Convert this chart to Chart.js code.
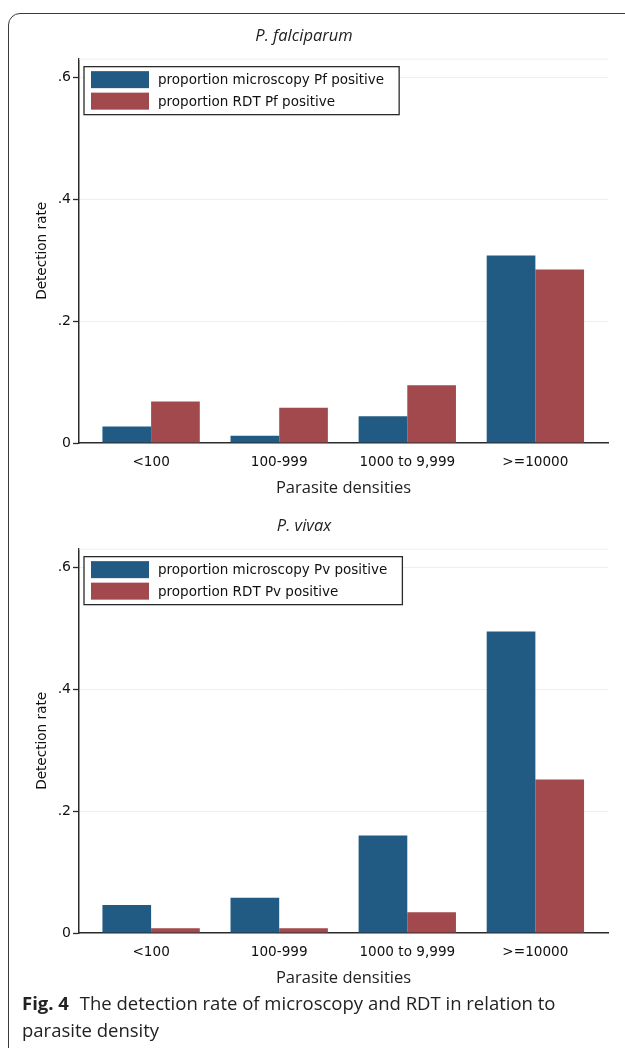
<!DOCTYPE html>
<html>
<head>
<meta charset="utf-8">
<script src="https://cdn.jsdelivr.net/npm/chart.js@4/dist/chart.umd.min.js"></script>
<style>
    html, body { margin: 0; padding: 0; background: #fff; }
    body { width: 625px; height: 1048px; position: relative; overflow: hidden; }
    .frame {
        position: absolute; left: 8px; top: 13px; right: -20px; bottom: -20px;
        border: 1.3px solid #3a3a3a; border-top-left-radius: 12px;
    }
    canvas { position: absolute; left: 0; }
    #pfChart { top: 20px; }
    #pvChart { top: 510px; }
    .caption {
        position: absolute; left: 22px; top: 989px; width: 570px;
        font-family: "Open Sans", sans-serif; font-size: 18.5px; line-height: 27px; color: #222;
    }
    .caption b { font-weight: 700; margin-right: 6px; }
</style>
</head>
<body>
<div class="frame"></div>
<canvas id="pfChart" width="625" height="485"></canvas>
<canvas id="pvChart" width="625" height="485"></canvas>
<div class="caption"><b>Fig. 4</b> The detection rate of microscopy and RDT in relation to parasite density</div>

<script>
const categories = ['<100', '100-999', '1000 to 9,999', '>=10000'];

const pfMicroscopy = [0.027, 0.012, 0.044, 0.308];
const pfRdt = [0.068, 0.058, 0.095, 0.285];

const pvMicroscopy = [0.046, 0.058, 0.160, 0.495];
const pvRdt = [0.008, 0.008, 0.034, 0.252];

const yTickValues = [0, 0.2, 0.4, 0.6];
const yTickLabels = ['0', '.2', '.4', '.6'];

const BLUE = '#215a82';
const RED = '#a2494d';
const GRID = '#e8f0f2';
const AXIS = '#2b2b2b';

// Stata-style legend: bordered box in the top-left corner of the plot
const boxLegend = {
    id: 'boxLegend',
    beforeDatasetsDraw(chart) {
        const ca = chart.chartArea;
        const ctx = chart.ctx;
        ctx.save();
        ctx.strokeStyle = GRID;
        ctx.lineWidth = 1;
        ctx.beginPath();
        ctx.moveTo(ca.left, ca.top + 0.5);
        ctx.lineTo(ca.right, ca.top + 0.5);
        ctx.stroke();
        ctx.restore();
    },
    afterDraw(chart) {
        const ca = chart.chartArea;
        const ctx = chart.ctx;
        const sets = chart.data.datasets;
        ctx.save();
        ctx.font = '13.5px "DejaVu Sans"';
        const textW = Math.max(...sets.map(d => ctx.measureText(d.label).width));
        const x0 = ca.left + 5;
        const y0 = ca.top + 8;
        const w = 79 + textW + 10;
        const h = 48;
        ctx.fillStyle = '#fff';
        ctx.fillRect(x0, y0, w, h);
        ctx.strokeStyle = AXIS;
        ctx.lineWidth = 1.3;
        ctx.strokeRect(x0, y0, w, h);
        sets.forEach((d, i) => {
            const cy = y0 + 13 + i * 21.5;
            ctx.fillStyle = d.backgroundColor;
            ctx.fillRect(x0 + 7, cy - 8.5, 58, 17);
            ctx.fillStyle = '#111';
            ctx.textBaseline = 'middle';
            ctx.fillText(d.label, x0 + 74, cy + 1);
        });
        ctx.restore();
    }
};

function makeChart(canvasId, titleText, microLabel, rdtLabel, micro, rdt) {
    const ctx = document.getElementById(canvasId).getContext('2d');
    return new Chart(ctx, {
        type: 'bar',
        data: {
            datasets: [{
                label: microLabel,
                data: micro.map((v, i) => ({ x: i + 1, y: v })),
                backgroundColor: BLUE,
                borderWidth: 0
            }, {
                label: rdtLabel,
                data: rdt.map((v, i) => ({ x: i + 1, y: v })),
                backgroundColor: RED,
                borderWidth: 0
            }]
        },
        options: {
            responsive: false,
            animation: false,
            devicePixelRatio: 1,
            categoryPercentage: 0.76,
            barPercentage: 1.0,
            layout: { padding: { left: 0, right: 17, top: 0, bottom: 0 } },
            plugins: {
                legend: { display: false },
                tooltip: { enabled: false },
                title: {
                    display: true,
                    text: titleText,
                    color: '#222',
                    font: { family: '"Open Sans"', size: 16.5, style: 'italic', weight: 'normal', lineHeight: 1.1 },
                    padding: { top: 7, bottom: 13.5 }
                }
            },
            scales: {
                x: {
                    type: 'linear',
                    offset: false,
                    min: 0.437,
                    max: 4.567,
                    afterBuildTicks: scale => {
                        scale.ticks = categories.map((c, i) => ({ value: i + 1 }));
                    },
                    afterFit: scale => { scale.height = 62; },
                    grid: { display: false, drawTicks: false },
                    border: { display: true, color: AXIS, width: 1.5 },
                    ticks: {
                        autoSkip: false,
                        maxRotation: 0,
                        padding: 11,
                        color: '#111',
                        font: { family: '"DejaVu Sans"', size: 13.6 },
                        callback: v => categories[v - 1]
                    },
                    title: {
                        display: true,
                        text: 'Parasite densities',
                        color: '#222',
                        font: { family: '"Open Sans"', size: 16.5 },
                        padding: { top: 0, bottom: 7 }
                    }
                },
                y: {
                    min: 0,
                    max: 0.631,
                    afterBuildTicks: scale => {
                        scale.ticks = yTickValues.map(v => ({ value: v }));
                    },
                    afterFit: scale => { scale.width = 79; },
                    grid: {
                        color: ctx => ctx.tick && ctx.tick.value === 0 ? 'rgba(0,0,0,0)' : GRID,
                        lineWidth: 1,
                        drawTicks: true,
                        tickLength: 6,
                        tickColor: AXIS,
                        tickWidth: 1.3
                    },
                    border: { display: true, color: AXIS, width: 1.5 },
                    ticks: {
                        padding: 2,
                        color: '#111',
                        font: { family: '"DejaVu Sans"', size: 14 },
                        callback: (v, i) => yTickLabels[yTickValues.indexOf(v)]
                    },
                    title: {
                        display: true,
                        text: 'Detection rate',
                        color: '#111',
                        font: { family: '"DejaVu Sans"', size: 13.6 },
                        padding: { top: 34.5, bottom: 0 }
                    }
                }
            }
        },
        plugins: [boxLegend]
    });
}

document.addEventListener('DOMContentLoaded', function () {
    makeChart('pfChart', 'P. falciparum',
        'proportion microscopy Pf positive', 'proportion RDT Pf positive',
        pfMicroscopy, pfRdt);
    makeChart('pvChart', 'P. vivax',
        'proportion microscopy Pv positive', 'proportion RDT Pv positive',
        pvMicroscopy, pvRdt);
});
</script>
</body>
</html>
